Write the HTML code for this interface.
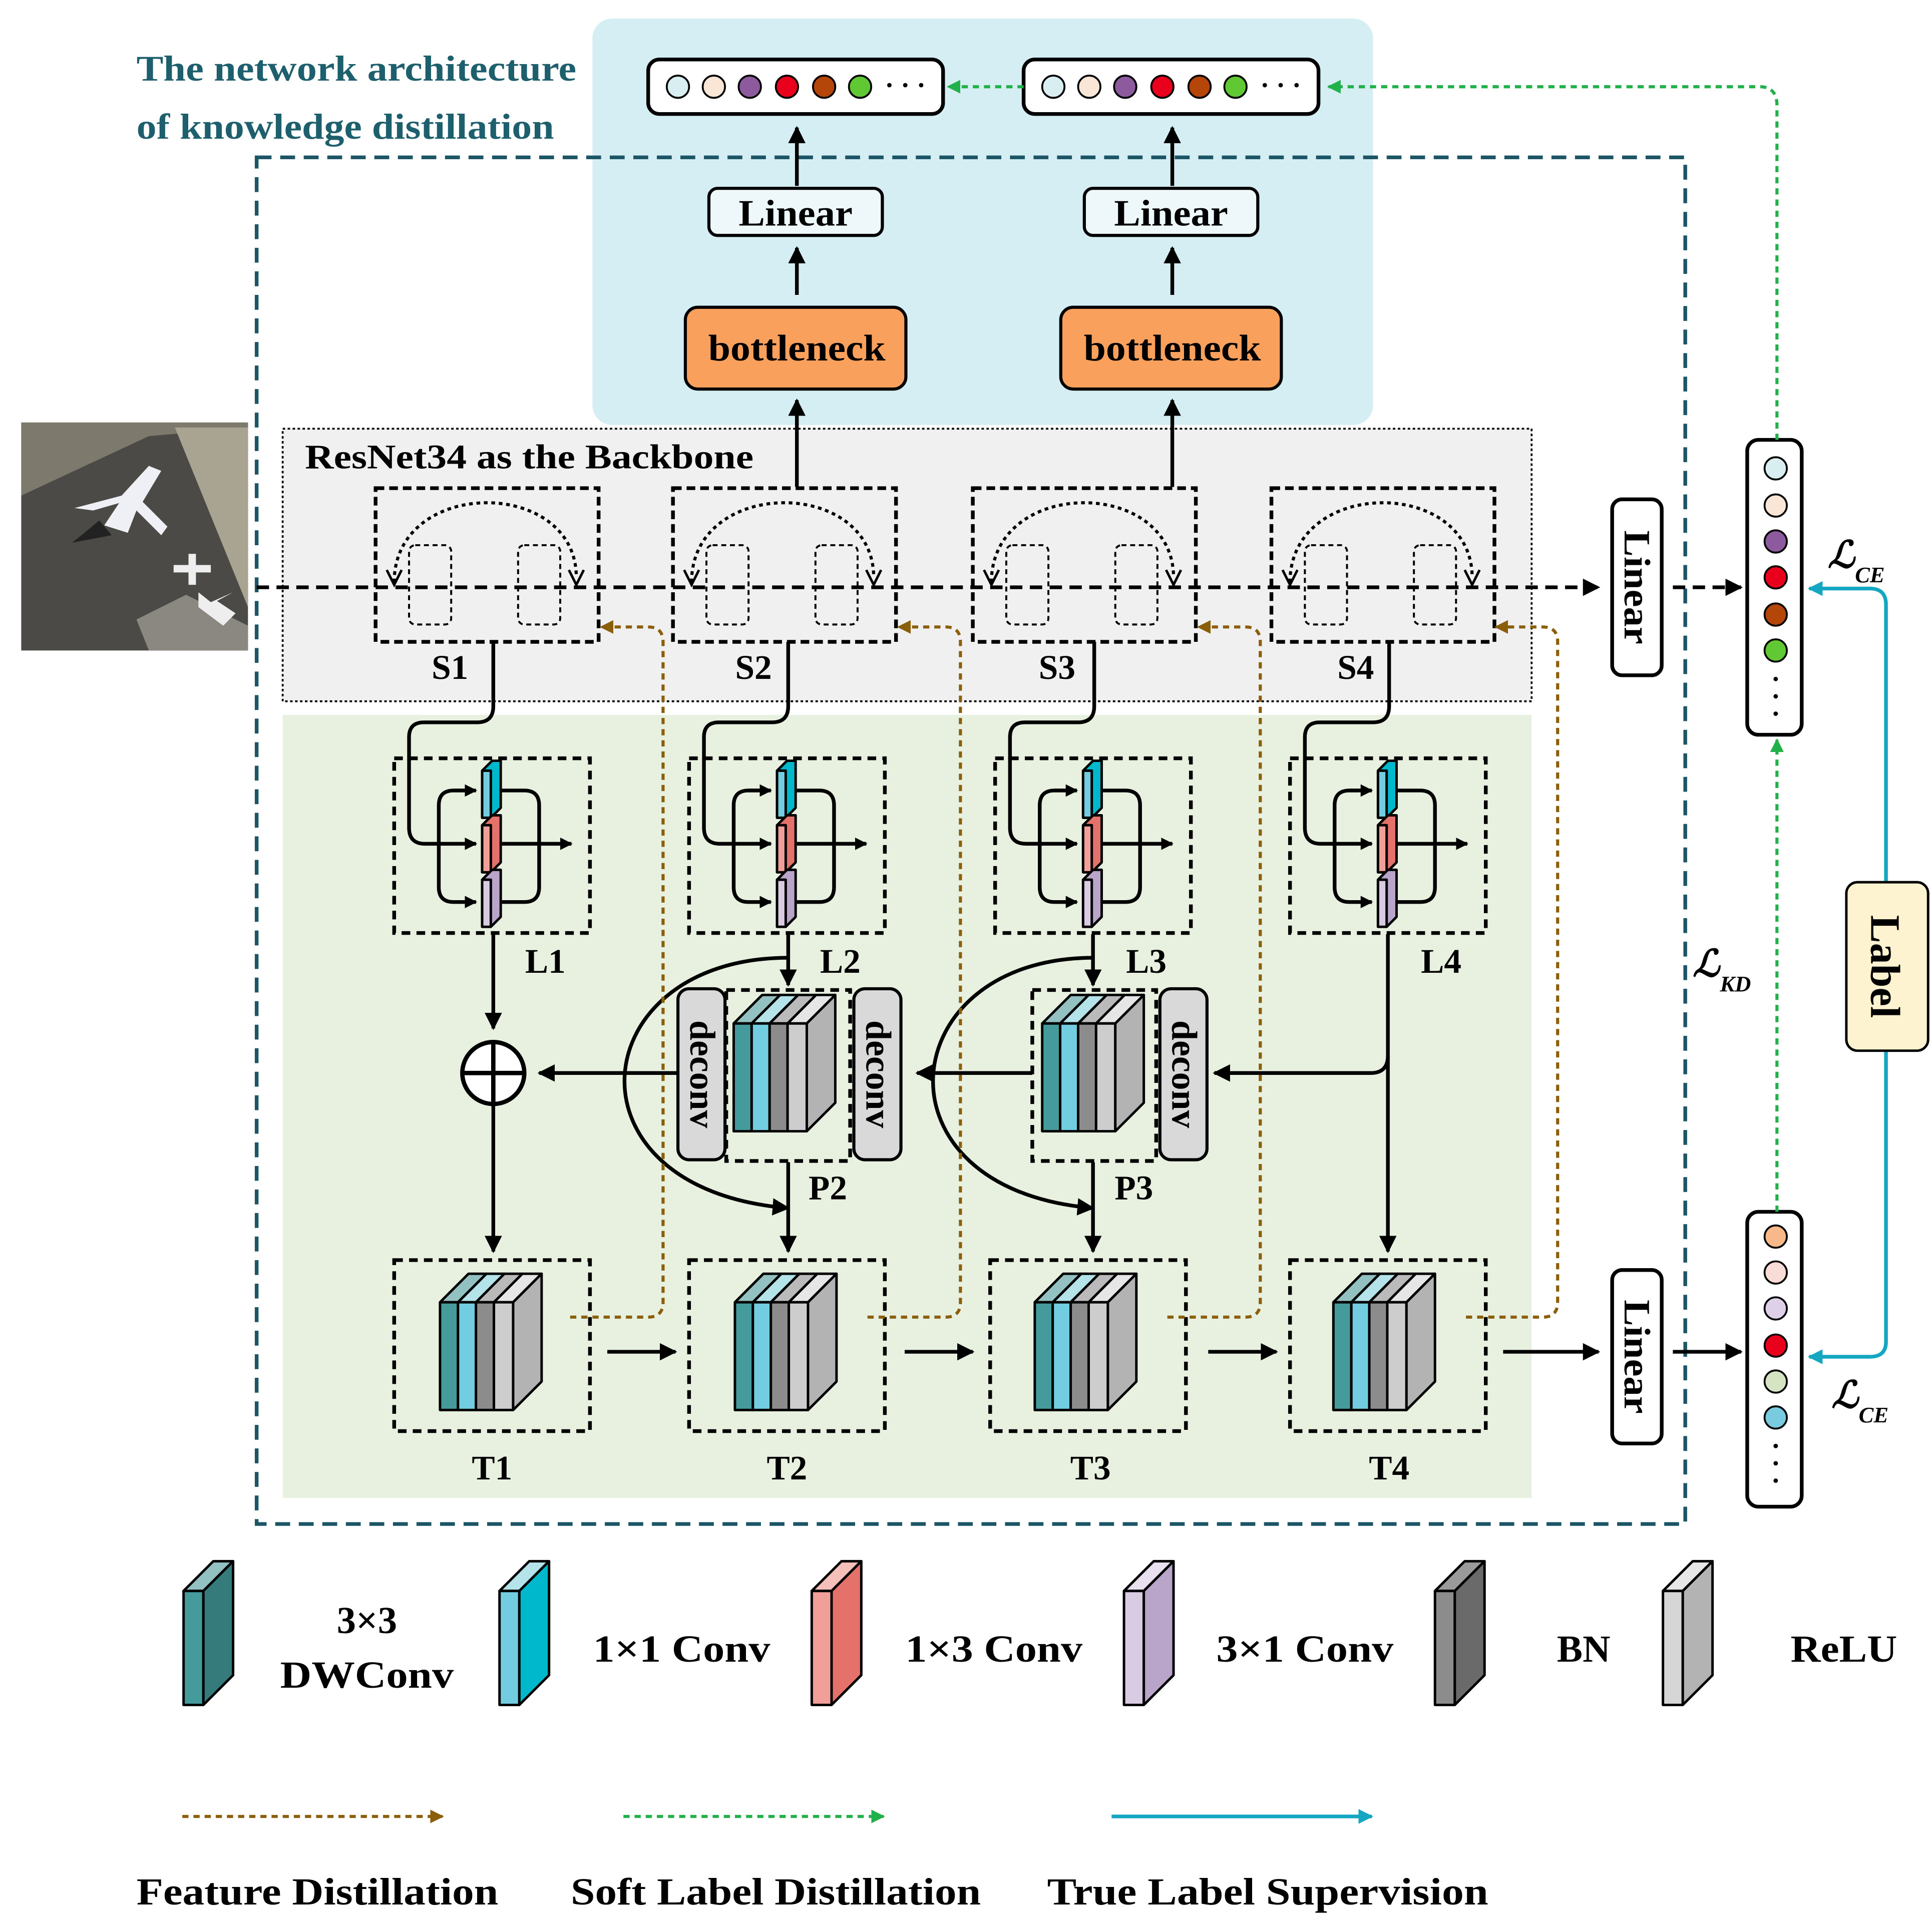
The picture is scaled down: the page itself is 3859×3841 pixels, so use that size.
<!DOCTYPE html>
<html><head><meta charset="utf-8"><style>
html,body{margin:0;padding:0;background:#fff}
svg{display:block}
text{font-family:"Liberation Serif",serif;font-weight:bold}
</style></head><body>
<svg width="3859" height="3841" viewBox="0 0 1559 1552" xmlns="http://www.w3.org/2000/svg">
<defs>
<marker id="ab" viewBox="0 0 10 10" refX="9" refY="5" markerWidth="10" markerHeight="10" orient="auto" markerUnits="userSpaceOnUse"><path d="M0,0L10,5L0,10z" fill="#000"/></marker>
<marker id="abk" viewBox="0 0 10 10" refX="9" refY="5" markerWidth="14" markerHeight="14" orient="auto" markerUnits="userSpaceOnUse"><path d="M0,0L10,5L0,10z" fill="#000"/></marker>
<marker id="abr" viewBox="0 0 10 10" refX="9" refY="5" markerWidth="11" markerHeight="11" orient="auto" markerUnits="userSpaceOnUse"><path d="M0,0L10,5L0,10z" fill="#8b5e0a"/></marker>
<marker id="agr" viewBox="0 0 10 10" refX="9" refY="5" markerWidth="11" markerHeight="11" orient="auto" markerUnits="userSpaceOnUse"><path d="M0,0L10,5L0,10z" fill="#22b04a"/></marker>
<marker id="acy" viewBox="0 0 10 10" refX="9" refY="5" markerWidth="12" markerHeight="12" orient="auto" markerUnits="userSpaceOnUse"><path d="M0,0L10,5L0,10z" fill="#15a7c2"/></marker>
<g id="cube" stroke="#000" stroke-width="2" stroke-linejoin="round">
<polygon points="0,23 23,0 37.5,0 14.5,23" fill="#93c1c1"/>
<polygon points="14.5,23 37.5,0 52,0 29,23" fill="#b5e3ea"/>
<polygon points="29,23 52,0 66.5,0 43.5,23" fill="#bababa"/>
<polygon points="43.5,23 66.5,0 82,0 59,23" fill="#e6e6e6"/>
<rect x="0" y="23" width="14.5" height="87" fill="#459b9b"/>
<rect x="14.5" y="23" width="14.5" height="87" fill="#72cde0"/>
<rect x="29" y="23" width="14.5" height="87" fill="#8c8c8c"/>
<rect x="43.5" y="23" width="15.5" height="87" fill="#cdcdcd"/>
<polygon points="59,23 82,0 82,87 59,110" fill="#b3b3b3"/>
</g>
<g id="lblk" stroke="#000" stroke-width="3" fill="none">
<rect x="318" y="612" width="158" height="141" stroke-dasharray="7,5"/>
<path d="M398,518 V570 Q398,583 385,583 H342 Q330,583 330,595 V668 Q330,681 343,681 H384" marker-end="url(#ab)"/>
<path d="M380,638 H366 Q354,638 354,650 V716 Q354,728 366,728 H384" marker-end="url(#ab)"/>
<path d="M366,638 H384" marker-end="url(#ab)"/>
<path d="M405,638 H423 Q435,638 435,650 V716 Q435,728 423,728 H405"/>
<path d="M405,681 H461" marker-end="url(#ab)"/>
<g stroke-width="2" stroke-linejoin="round">
<polygon points="389,622 397,614 404,614 404,652 396,660 389,660" fill="#00b8cc"/><rect x="389" y="622" width="7" height="38" fill="#72cde0"/>
<polygon points="389,666 397,658 404,658 404,696 396,704 389,704" fill="#e4716a"/><rect x="389" y="666" width="7" height="38" fill="#f0a098"/>
<polygon points="389,710 397,702 404,702 404,740 396,748 389,748" fill="#b8a5c9"/><rect x="389" y="710" width="7" height="38" fill="#d8cbe2"/>
</g>
</g>
<g id="sblk" fill="none" stroke="#000">
<rect x="303" y="394" width="180" height="124" stroke-width="3" stroke-dasharray="7,4"/>
<rect x="330" y="440" width="34" height="64" rx="5" stroke-width="1.6" stroke-dasharray="4,3"/>
<rect x="418" y="440" width="34" height="64" rx="5" stroke-width="1.6" stroke-dasharray="4,3"/>
<path d="M318,470 C318,385 465,385 465,466" stroke-width="2.5" stroke-dasharray="3,3"/>
<path d="M459,460 L465,472 L471,460" stroke-width="2"/>
<path d="M312,460 L318,472 L324,460" stroke-width="2"/>
</g>
</defs>

<rect x="478" y="15" width="630" height="328" rx="16" fill="#d4eef3"/>
<rect x="228" y="346" width="1008" height="220" fill="#f0f0f0" stroke="#000" stroke-width="1.5" stroke-dasharray="2,2"/>
<rect x="228" y="577" width="1008" height="632" fill="#e8f0df"/>
<rect x="207" y="127" width="1153" height="1103" fill="none" stroke="#1b5566" stroke-width="3" stroke-dasharray="12,7"/>

<text x="110" y="65" font-size="29" fill="#1e5f6e" textLength="355" lengthAdjust="spacingAndGlyphs">The network architecture</text>
<text x="110" y="112" font-size="29" fill="#1e5f6e" textLength="337" lengthAdjust="spacingAndGlyphs">of knowledge distillation</text>

<g>
<rect x="17" y="341" width="183" height="184" fill="#4c4a47"/>
<polygon points="17,341 200,341 200,345 120,352 17,400" fill="#7d796d"/>
<polygon points="141,345 200,345 200,490" fill="#a9a391"/>
<polygon points="110,500 150,480 200,505 200,525 120,525" fill="#8a8880"/>
<polygon points="130,380 120,376 98,400 60,410 75,412 96,406 84,424 103,430 110,412 130,432 135,425 115,405" fill="#eef0f5"/>
<polygon points="68,430 58,438 90,432 80,420" fill="#222"/>
<rect x="140" y="456" width="30" height="6" fill="#eee"/><rect x="152" y="447" width="6" height="25" fill="#eee"/>
<polygon points="160,490 180,505 190,495 175,485 188,478 170,486 160,478" fill="#eee"/>
</g>

<g stroke="#000" stroke-width="3" fill="#fff">
<rect x="523" y="48" width="238" height="44" rx="9"/>
<rect x="826" y="48" width="238" height="44" rx="9"/>
</g>
<g stroke="#000" stroke-width="1.5">
<circle cx="547" cy="70" r="9" fill="#d9eef0"/><circle cx="576" cy="70" r="9" fill="#f9e6d6"/><circle cx="605" cy="70" r="9" fill="#8e5a9e"/><circle cx="635" cy="70" r="9" fill="#e8001c"/><circle cx="665" cy="70" r="9" fill="#b4460a"/><circle cx="694" cy="70" r="9" fill="#5fc832"/>
<circle cx="850" cy="70" r="9" fill="#d9eef0"/><circle cx="879" cy="70" r="9" fill="#f9e6d6"/><circle cx="908" cy="70" r="9" fill="#8e5a9e"/><circle cx="938" cy="70" r="9" fill="#e8001c"/><circle cx="968" cy="70" r="9" fill="#b4460a"/><circle cx="997" cy="70" r="9" fill="#5fc832"/>
</g>
<text x="714" y="76" font-size="22">· · ·</text>
<text x="1017" y="76" font-size="22">· · ·</text>

<g stroke="#000" stroke-width="3" fill="none">
<path d="M643,150 V103" marker-end="url(#abk)"/>
<path d="M946,150 V103" marker-end="url(#abk)"/>
<path d="M643,238 V200" marker-end="url(#abk)"/>
<path d="M946,238 V200" marker-end="url(#abk)"/>
<path d="M643,393 V323" marker-end="url(#abk)"/>
<path d="M946,393 V323" marker-end="url(#abk)"/>
</g>
<g stroke="#000" stroke-width="2.5">
<rect x="572" y="152" width="140" height="38" rx="7" fill="#eef7f9"/>
<rect x="875" y="152" width="140" height="38" rx="7" fill="#eef7f9"/>
<rect x="553" y="248" width="178" height="66" rx="10" fill="#f9a15c"/>
<rect x="856" y="248" width="178" height="66" rx="10" fill="#f9a15c"/>
</g>
<text x="642" y="182" font-size="30" text-anchor="middle" textLength="92" lengthAdjust="spacingAndGlyphs">Linear</text>
<text x="945" y="182" font-size="30" text-anchor="middle" textLength="92" lengthAdjust="spacingAndGlyphs">Linear</text>
<text x="643" y="291" font-size="30" text-anchor="middle" textLength="143" lengthAdjust="spacingAndGlyphs">bottleneck</text>
<text x="946" y="291" font-size="30" text-anchor="middle" textLength="143" lengthAdjust="spacingAndGlyphs">bottleneck</text>

<text x="246" y="378" font-size="28" textLength="362" lengthAdjust="spacingAndGlyphs">ResNet34 as the Backbone</text>
<use href="#sblk"/>
<use href="#sblk" x="240"/>
<use href="#sblk" x="482"/>
<use href="#sblk" x="723"/>
<path d="M207,474 H1290" stroke="#000" stroke-width="3" stroke-dasharray="10,6" fill="none" marker-end="url(#abk)"/>
<path d="M1350,474 H1405" stroke="#000" stroke-width="3" stroke-dasharray="10,6" fill="none" marker-end="url(#abk)"/>
<text x="363" y="548" font-size="28" text-anchor="middle">S1</text>
<text x="608" y="548" font-size="28" text-anchor="middle">S2</text>
<text x="853" y="548" font-size="28" text-anchor="middle">S3</text>
<text x="1094" y="548" font-size="28" text-anchor="middle">S4</text>

<g stroke="#000" stroke-width="3" fill="#fff">
<rect x="1301" y="403" width="40" height="142" rx="8"/>
<rect x="1301" y="1025" width="40" height="140" rx="8"/>
<rect x="1410" y="355" width="44" height="238" rx="9"/>
<rect x="1410" y="978" width="44" height="238" rx="9"/>
</g>
<text transform="translate(1311,474) rotate(90)" font-size="30" text-anchor="middle" textLength="92" lengthAdjust="spacingAndGlyphs">Linear</text>
<text transform="translate(1311,1095) rotate(90)" font-size="30" text-anchor="middle" textLength="92" lengthAdjust="spacingAndGlyphs">Linear</text>
<g stroke="#000" stroke-width="1.5">
<circle cx="1433" cy="378" r="9" fill="#d9eef0"/><circle cx="1433" cy="408" r="9" fill="#f9e6d6"/><circle cx="1433" cy="437" r="9" fill="#8e5a9e"/><circle cx="1433" cy="466" r="9" fill="#e8001c"/><circle cx="1433" cy="496" r="9" fill="#b4460a"/><circle cx="1433" cy="525" r="9" fill="#5fc832"/>
<circle cx="1433" cy="998" r="9" fill="#f7b98a"/><circle cx="1433" cy="1027" r="9" fill="#f9dcd6"/><circle cx="1433" cy="1056" r="9" fill="#ddd0e8"/><circle cx="1433" cy="1086" r="9" fill="#e8001c"/><circle cx="1433" cy="1115" r="9" fill="#d6e4c4"/><circle cx="1433" cy="1144" r="9" fill="#79cbdf"/>
</g>
<g fill="#000"><circle cx="1433" cy="548" r="1.8"/><circle cx="1433" cy="562" r="1.8"/><circle cx="1433" cy="576" r="1.8"/>
<circle cx="1433" cy="1167" r="1.8"/><circle cx="1433" cy="1181" r="1.8"/><circle cx="1433" cy="1195" r="1.8"/></g>

<path d="M1522,712 V488 Q1522,475 1509,475 H1460" stroke="#15a7c2" stroke-width="3" fill="none" marker-end="url(#acy)"/>
<path d="M1522,848 V1083 Q1522,1095 1509,1095 H1460" stroke="#15a7c2" stroke-width="3" fill="none" marker-end="url(#acy)"/>
<rect x="1490" y="712" width="66" height="136" rx="9" fill="#fdf3d0" stroke="#000" stroke-width="2"/>
<text transform="translate(1510,780) rotate(90)" font-size="34" text-anchor="middle">Label</text>
<text x="1475" y="458" font-size="30" font-style="italic" font-weight="normal">ℒ</text><text x="1497" y="470" font-size="18" font-style="italic" font-weight="normal">CE</text>
<text x="1478" y="1136" font-size="30" font-style="italic" font-weight="normal">ℒ</text><text x="1500" y="1148" font-size="18" font-style="italic" font-weight="normal">CE</text>
<text x="1366" y="788" font-size="30" font-style="italic" font-weight="normal">ℒ</text><text x="1388" y="800" font-size="18" font-style="italic" font-weight="normal">KD</text>

<g stroke="#22b04a" stroke-width="2.5" fill="none" stroke-dasharray="5,4">
<path d="M1434,355 V85 Q1434,70 1420,70 H1072" marker-end="url(#agr)"/>
<path d="M826,70 H765" marker-end="url(#agr)"/>
<path d="M1434,978 V597" marker-end="url(#agr)"/>
</g>

<use href="#lblk"/>
<use href="#lblk" x="238"/>
<use href="#lblk" x="485"/>
<use href="#lblk" x="723"/>
<text x="440" y="785" font-size="28" text-anchor="middle">L1</text>
<text x="678" y="785" font-size="28" text-anchor="middle">L2</text>
<text x="925" y="785" font-size="28" text-anchor="middle">L3</text>
<text x="1163" y="785" font-size="28" text-anchor="middle">L4</text>

<g stroke="#000" stroke-width="3" fill="none">
<path d="M398,754 V830" marker-end="url(#abk)"/>
<path d="M636,754 V795" marker-end="url(#abk)"/>
<path d="M882,754 V795" marker-end="url(#abk)"/>
<path d="M1120,754 V1010" marker-end="url(#abk)"/>
<path d="M1120,852 Q1120,866 1106,866 H980" marker-end="url(#abk)"/>
<path d="M833,866 H740" marker-end="url(#abk)"/>
<path d="M547,866 H435" marker-end="url(#abk)"/>
<path d="M636,773 C470,773 450,960 636,975" marker-end="url(#abk)"/>
<path d="M882,773 C720,773 700,960 882,975" marker-end="url(#abk)"/>
<path d="M398,892 V1010" marker-end="url(#abk)"/>
<path d="M636,938 V1010" marker-end="url(#abk)"/>
<path d="M882,938 V1010" marker-end="url(#abk)"/>
<circle cx="398" cy="866" r="25" fill="#fff" stroke-width="3.5"/>
<path d="M373,866 H423 M398,841 V891" stroke-width="3.5"/>
</g>

<g stroke="#000" stroke-width="2.5">
<rect x="547" y="798" width="38" height="138" rx="9" fill="#d9d9d9"/>
<rect x="689" y="798" width="38" height="138" rx="9" fill="#d9d9d9"/>
<rect x="936" y="798" width="38" height="138" rx="9" fill="#d9d9d9"/>
</g>
<rect x="586" y="799" width="100" height="138" fill="none" stroke="#000" stroke-width="3" stroke-dasharray="7,5"/>
<rect x="833" y="799" width="100" height="138" fill="none" stroke="#000" stroke-width="3" stroke-dasharray="7,5"/>
<use href="#cube" x="592" y="803"/>
<use href="#cube" x="841" y="803"/>
<text transform="translate(557,867) rotate(90)" font-size="29" text-anchor="middle" font-weight="normal">deconv</text>
<text transform="translate(699,867) rotate(90)" font-size="29" text-anchor="middle" font-weight="normal">deconv</text>
<text transform="translate(946,867) rotate(90)" font-size="29" text-anchor="middle" font-weight="normal">deconv</text>
<text x="668" y="968" font-size="28" text-anchor="middle">P2</text>
<text x="915" y="968" font-size="28" text-anchor="middle">P3</text>

<g fill="none" stroke="#000" stroke-width="3" stroke-dasharray="7,5">
<rect x="318" y="1017" width="158" height="138"/>
<rect x="556" y="1017" width="158" height="138"/>
<rect x="799" y="1017" width="158" height="138"/>
<rect x="1041" y="1017" width="158" height="138"/>
</g>
<use href="#cube" x="355" y="1028"/>
<use href="#cube" x="593" y="1028"/>
<use href="#cube" x="835" y="1028"/>
<use href="#cube" x="1076" y="1028"/>
<text x="397" y="1194" font-size="28" text-anchor="middle">T1</text>
<text x="635" y="1194" font-size="28" text-anchor="middle">T2</text>
<text x="880" y="1194" font-size="28" text-anchor="middle">T3</text>
<text x="1121" y="1194" font-size="28" text-anchor="middle">T4</text>
<g stroke="#000" stroke-width="3" fill="none">
<path d="M490,1091 H545" marker-end="url(#abk)"/>
<path d="M730,1091 H785" marker-end="url(#abk)"/>
<path d="M975,1091 H1030" marker-end="url(#abk)"/>
<path d="M1213,1091 H1290" marker-end="url(#abk)"/>
<path d="M1350,1091 H1405" marker-end="url(#abk)"/>
</g>

<g stroke="#8b5e0a" stroke-width="2.5" fill="none" stroke-dasharray="5,4">
<path d="M460,1063 H523 Q535,1063 535,1051 V518 Q535,506 523,506 H485" marker-end="url(#abr)"/>
<path d="M700,1063 H763 Q775,1063 775,1051 V518 Q775,506 763,506 H725" marker-end="url(#abr)"/>
<path d="M942,1063 H1005 Q1017,1063 1017,1051 V518 Q1017,506 1005,506 H967" marker-end="url(#abr)"/>
<path d="M1183,1063 H1245 Q1257,1063 1257,1051 V518 Q1257,506 1245,506 H1207" marker-end="url(#abr)"/>
</g>

<g stroke="#000" stroke-width="2" stroke-linejoin="round">
<polygon points="148,1284 172,1260 188,1260 164,1284" fill="#93c1c1"/><rect x="148" y="1284" width="16" height="92" fill="#459b9b"/><polygon points="164,1284 188,1260 188,1352 164,1376" fill="#357b7b"/>
<polygon points="403,1284 427,1260 443,1260 419,1284" fill="#b5e3ea"/><rect x="403" y="1284" width="16" height="92" fill="#72cde0"/><polygon points="419,1284 443,1260 443,1352 419,1376" fill="#00b8cc"/>
<polygon points="655,1284 679,1260 695,1260 671,1284" fill="#f6c0ba"/><rect x="655" y="1284" width="16" height="92" fill="#f0a098"/><polygon points="671,1284 695,1260 695,1352 671,1376" fill="#e4716a"/>
<polygon points="907,1284 931,1260 947,1260 923,1284" fill="#e8e0ef"/><rect x="907" y="1284" width="16" height="92" fill="#d8cbe2"/><polygon points="923,1284 947,1260 947,1352 923,1376" fill="#b8a5c9"/>
<polygon points="1158,1284 1182,1260 1198,1260 1174,1284" fill="#9a9a9a"/><rect x="1158" y="1284" width="16" height="92" fill="#8c8c8c"/><polygon points="1174,1284 1198,1260 1198,1352 1174,1376" fill="#6a6a6a"/>
<polygon points="1342,1284 1366,1260 1382,1260 1358,1284" fill="#e6e6e6"/><rect x="1342" y="1284" width="16" height="92" fill="#d6d6d6"/><polygon points="1358,1284 1382,1260 1382,1352 1358,1376" fill="#b3b3b3"/>
</g>
<text x="296" y="1318" font-size="31" text-anchor="middle">3×3</text>
<text x="296" y="1362" font-size="31" text-anchor="middle" textLength="140" lengthAdjust="spacingAndGlyphs">DWConv</text>
<text x="550" y="1341" font-size="31" text-anchor="middle" textLength="143" lengthAdjust="spacingAndGlyphs">1×1 Conv</text>
<text x="802" y="1341" font-size="31" text-anchor="middle" textLength="143" lengthAdjust="spacingAndGlyphs">1×3 Conv</text>
<text x="1053" y="1341" font-size="31" text-anchor="middle" textLength="143" lengthAdjust="spacingAndGlyphs">3×1 Conv</text>
<text x="1278" y="1341" font-size="31" text-anchor="middle">BN</text>
<text x="1488" y="1341" font-size="31" text-anchor="middle" textLength="86" lengthAdjust="spacingAndGlyphs">ReLU</text>

<path d="M147,1466 H357" stroke="#8b5e0a" stroke-width="2.5" stroke-dasharray="5,4" marker-end="url(#abr)"/>
<path d="M503,1466 H713" stroke="#22b04a" stroke-width="2.5" stroke-dasharray="5,4" marker-end="url(#agr)"/>
<path d="M897,1466 H1107" stroke="#15a7c2" stroke-width="3" marker-end="url(#acy)"/>
<text x="256" y="1537" font-size="31" text-anchor="middle" textLength="292" lengthAdjust="spacingAndGlyphs">Feature Distillation</text>
<text x="626" y="1537" font-size="31" text-anchor="middle" textLength="331" lengthAdjust="spacingAndGlyphs">Soft Label Distillation</text>
<text x="1023" y="1537" font-size="31" text-anchor="middle" textLength="356" lengthAdjust="spacingAndGlyphs">True Label Supervision</text>
</svg>
</body></html>
